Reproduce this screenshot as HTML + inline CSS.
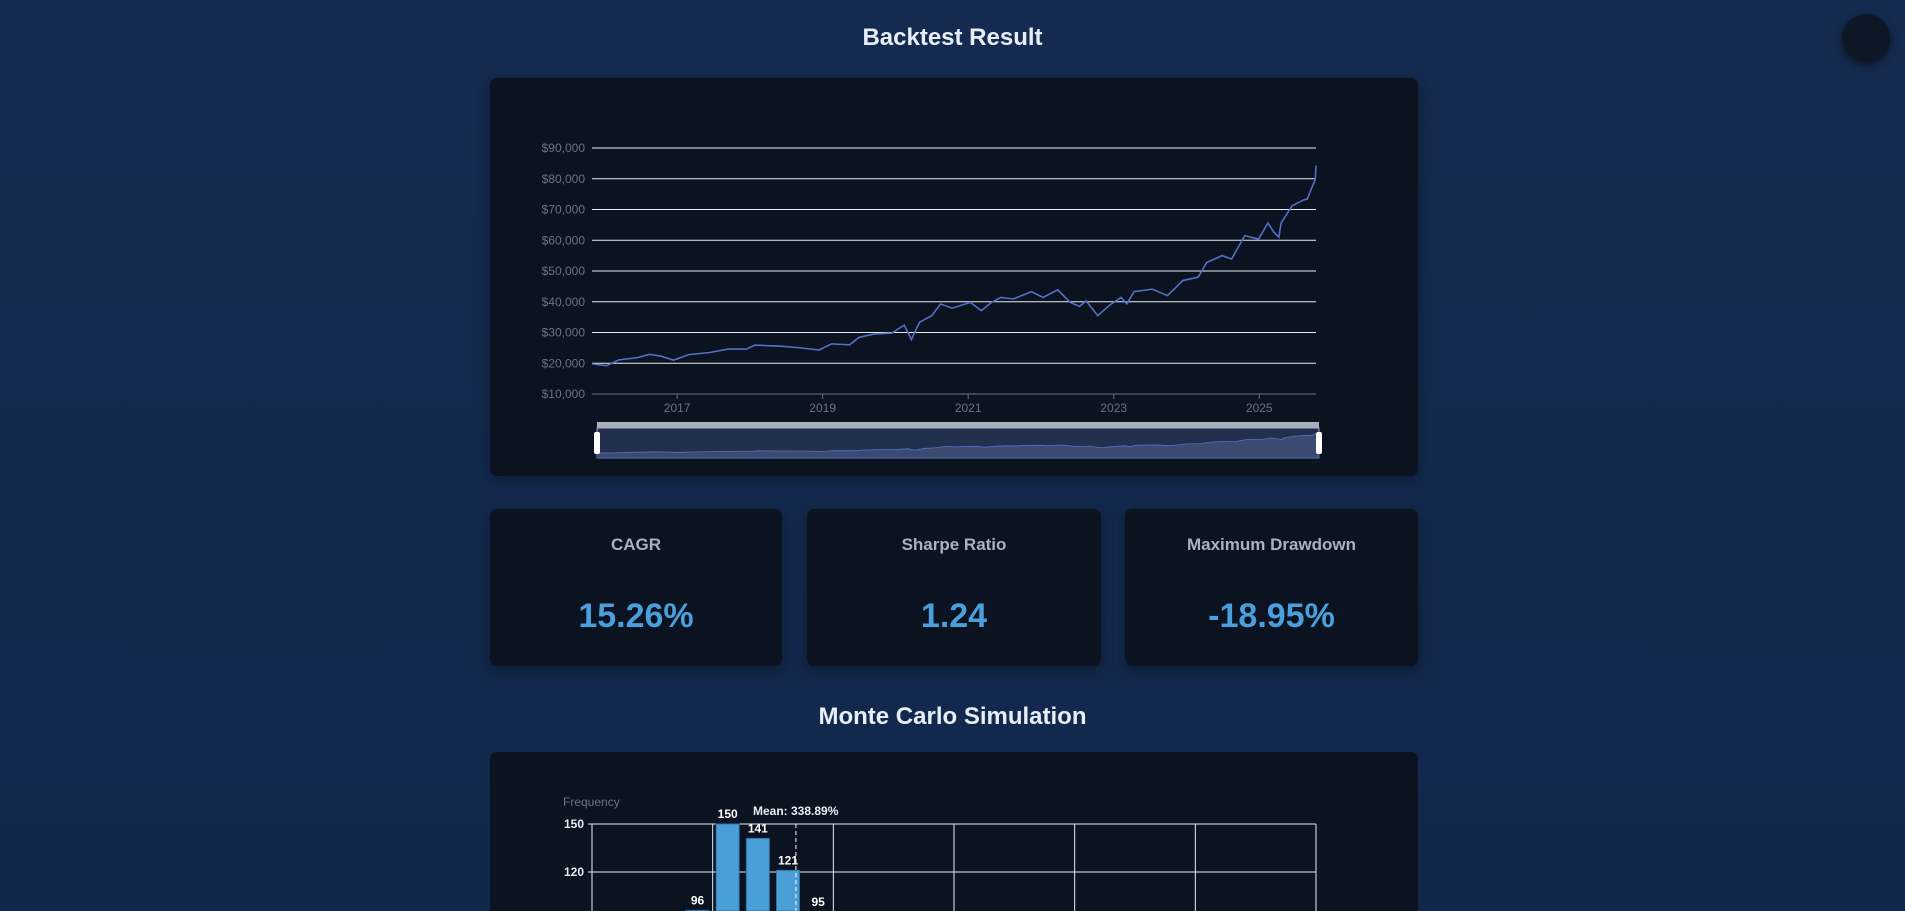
<!DOCTYPE html>
<html><head><meta charset="utf-8"><style>
html,body{margin:0;padding:0;width:1905px;height:911px;overflow:hidden;background:linear-gradient(180deg,#142a4e 0%,#12284b 100%);font-family:"Liberation Sans",sans-serif;}
.h{position:absolute;left:0;width:1905px;text-align:center;color:#e8eef7;font-weight:bold;font-size:24px;}
.card{position:absolute;background:#0b1220;border-radius:7px;box-shadow:0 4px 12px rgba(0,0,0,.35);}
.ml{position:absolute;left:0;right:0;text-align:center;color:#a7b2c2;font-weight:bold;font-size:17px;top:26px;}
.mv{position:absolute;left:0;right:0;text-align:center;color:#4a9fdc;font-weight:bold;font-size:34px;top:88px;}
svg{overflow:hidden;}
</style></head><body>
<div class="h" style="top:24px">Backtest Result</div>
<div style="position:absolute;left:1842px;top:14px;width:48px;height:48px;border-radius:50%;background:#0e1726;box-shadow:0 3px 8px rgba(0,0,0,.5)"></div>
<div class="card" style="left:490px;top:78px;width:928px;height:398px"></div>
<svg id="eq" width="1905" height="911" style="position:absolute;left:0;top:0"></svg>
<div class="card" style="left:490px;top:509px;width:292px;height:157px"><div class="ml">CAGR</div><div class="mv">15.26%</div></div>
<div class="card" style="left:807px;top:509px;width:294px;height:157px"><div class="ml">Sharpe Ratio</div><div class="mv">1.24</div></div>
<div class="card" style="left:1125px;top:509px;width:293px;height:157px"><div class="ml">Maximum Drawdown</div><div class="mv">-18.95%</div></div>
<div class="h" style="top:703px">Monte Carlo Simulation</div>
<div class="card" style="left:490px;top:752px;width:928px;height:159px;border-bottom-left-radius:0;border-bottom-right-radius:0;box-shadow:none"></div>
<svg id="hist" width="1905" height="911" style="position:absolute;left:0;top:0"></svg>
<script>
const dates=[2015.83,2016.03,2016.2,2016.45,2016.62,2016.78,2016.95,2017.16,2017.45,2017.7,2017.95,2018.07,2018.45,2018.7,2018.95,2019.12,2019.37,2019.5,2019.7,2019.95,2020.12,2020.22,2020.33,2020.5,2020.62,2020.78,2021.03,2021.18,2021.32,2021.45,2021.62,2021.87,2022.03,2022.23,2022.4,2022.53,2022.62,2022.78,2022.95,2023.1,2023.18,2023.28,2023.53,2023.74,2023.95,2024.16,2024.28,2024.49,2024.62,2024.8,2024.99,2025.12,2025.2,2025.27,2025.3,2025.45,2025.62,2025.66,2025.77,2025.78];
const equity=[19800,19200,21100,21800,22900,22300,21000,22800,23500,24600,24600,25900,25500,25000,24300,26300,26000,28400,29500,29800,32400,27700,33300,35500,39300,37900,39800,37100,39800,41400,40900,43300,41400,43900,39800,38500,40300,35500,39000,41400,39300,43300,44100,42000,46900,48000,52800,55000,53900,61500,60400,65600,62600,61000,65600,71200,73200,73400,79900,84300];
const yTicks=[10000,20000,30000,40000,50000,60000,70000,80000,90000];
const xYears=[2017,2019,2021,2023,2025];
const NS="http://www.w3.org/2000/svg";
function mk(svg,tag,at){const e=document.createElementNS(NS,tag);for(const k in at)e.setAttribute(k,at[k]);svg.appendChild(e);return e;}
const eq=document.getElementById('eq');
const L=592,R=1316,T=148,B=394;
const x0=2015.83,x1=2025.78;
const xs=v=>L+(v-x0)/(x1-x0)*(R-L);
const ys=v=>B-(v-10000)/80000*(B-T);
yTicks.forEach(t=>{
 const l=mk(eq,'line',{x1:L,x2:R,y1:ys(t),y2:ys(t),stroke:t===10000?'#6b7280':'#e8ecf2','stroke-width':1});
 
 
 const tx=mk(eq,'text',{x:L-7,y:ys(t)+4,'text-anchor':'end','font-size':12,fill:'#6b7280','font-family':'Liberation Sans, sans-serif'});
 tx.textContent='$'+t.toLocaleString('en-US');
 
 
});
xYears.forEach(y=>{
 const l=mk(eq,'line',{x1:xs(y),x2:xs(y),y1:B,y2:B+5,stroke:'#6b7280'});
 
 
 const tx=mk(eq,'text',{x:xs(y),y:B+18,'text-anchor':'middle','font-size':12,fill:'#6b7280','font-family':'Liberation Sans, sans-serif'});
 tx.textContent=y;
 
 
});
const pl=mk(eq,'polyline',{points:dates.map((d,i)=>xs(d)+','+ys(equity[i])).join(' '),fill:'none',stroke:'#5470c6','stroke-width':1.6});


const SL=597,SR=1319,ST=428,SB=458;
const sxs=d=>SL+(d-x0)/(x1-x0)*(SR-SL);
const sys=v=>SB-2-(v-10000)/80000*(SB-ST-4);
const sb=mk(eq,'rect',{x:SL,y:422,width:SR-SL,height:6,fill:'#a9b0bd'});


const sa=mk(eq,'rect',{x:SL,y:ST,width:SR-SL,height:SB-ST,fill:'#22304d',stroke:'#a9b0bd','stroke-width':1});


const sp=mk(eq,'path',{d:'M'+SL+','+SB+' '+dates.map((d,i)=>'L'+sxs(d)+','+sys(equity[i])).join(' ')+' L'+SR+','+SB+'Z',fill:'#3a4a70',stroke:'#5470c6','stroke-width':0.8});


[SL,SR].forEach(hx=>{
 const h=mk(eq,'rect',{x:hx-3,y:ST+4,width:6,height:22,rx:2,fill:'#fff'});
 
 
});

const bins=[0,1,2,3,4,5,6,7,8,9,10];
const freq=[8,25,60,96,150,141,121,95,70,45,28];
const hTicks=[150,120,90];
const meanBin=6.76;
const meanLabel='Mean: 338.89%';
const hs=document.getElementById('hist');
const HL=592,HR=1316,HT=824;
const hx=b=>HL+b*(HR-HL)/24;
const hy=v=>HT+(150-v)*1.6;
for(let i=0;i<=6;i++){const l=mk(hs,'line',{x1:HL+i*(HR-HL)/6,x2:HL+i*(HR-HL)/6,y1:HT,y2:911,stroke:'#e8ecf2'});
 
 }
hTicks.forEach(t=>{
 const l=mk(hs,'line',{x1:HL-4,x2:HR,y1:hy(t),y2:hy(t),stroke:'#e8ecf2'});
 
 
 const tx=mk(hs,'text',{x:HL-8,y:hy(t)+4,'text-anchor':'end','font-size':12,'font-weight':'bold',fill:'#e8ecf2'});
 tx.textContent=t;
 
 
});
const ft=mk(hs,'text',{x:563,y:806,'font-size':12,fill:'#6b7280'});
ft.textContent='Frequency';


bins.forEach((b,i)=>{
 const r=mk(hs,'rect',{x:hx(b)+3.5,y:hy(freq[i]),width:23,height:Math.max(0,911-hy(freq[i])),fill:'#4a9fd6',stroke:'#2f6fa8','stroke-width':1});
 
 
 const t=mk(hs,'text',{x:hx(b)+15,y:hy(freq[i])-6,'text-anchor':'middle','font-size':12,'font-weight':'bold',fill:'#fff'});
 t.textContent=freq[i];
 
 
});
const ml=mk(hs,'line',{x1:HL+meanBin*(HR-HL)/24,x2:HL+meanBin*(HR-HL)/24,y1:HT,y2:911,stroke:'#fff','stroke-dasharray':'4,3'});


const mt=mk(hs,'text',{x:753,y:815,'font-size':12,'font-weight':'bold',fill:'#e8ecf2'});
mt.textContent=meanLabel;


</script>
</body></html>
